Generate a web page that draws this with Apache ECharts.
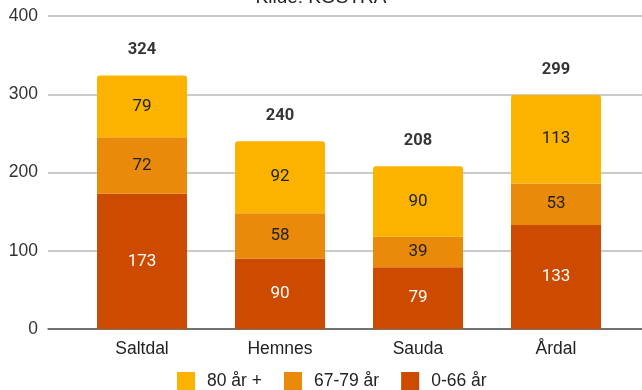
<!DOCTYPE html>
<html>
<head>
<meta charset="utf-8">
<style>
  html, body { margin: 0; padding: 0; background: #fff; }
  #chart { width: 642px; height: 390px; }
</style>
<script src="https://cdn.jsdelivr.net/npm/echarts@6/dist/echarts.min.js"></script>
</head>
<body>
<div id="chart"></div>
<script>
// Municipalities and age groups
const categories = ['Saltdal', 'Hemnes', 'Sauda', 'Årdal'];
const age0to66 = [173, 90, 79, 133];
const age67to79 = [72, 58, 39, 53];
const age80plus = [79, 92, 90, 113];
const totals = [324, 240, 208, 299];
const yTicks = [0, 100, 200, 300, 400];

const seriesNames = ['0-66 år', '67-79 år', '80 år +'];
const colors = ['#cc4b00', '#e98a0a', '#fbb300'];

const chart = echarts.init(document.getElementById('chart'));

const segLabel = (color) => ({
  show: true,
  position: 'inside',
  color: color,
  fontFamily: 'Roboto, Arial, sans-serif',
  fontSize: 17
});

chart.setOption({
  animation: false,
  color: colors,
  title: {
    text: 'Kilde: KOSTRA',
    left: 'center',
    top: -17,
    textStyle: { fontFamily: 'Arial, Liberation Sans, sans-serif', fontSize: 19, fontWeight: 'normal', color: '#222' }
  },
  legend: {
    data: ['80 år +', '67-79 år', '0-66 år'],
    bottom: -5,
    left: 172,
    itemWidth: 18,
    itemHeight: 18,
    itemGap: 22,
    icon: 'rect',
    textStyle: {
      fontFamily: 'Arial, Liberation Sans, sans-serif', fontSize: 17.5, color: '#222',
      padding: [0, 0, 0, 7]
    }
  },
  grid: [
    { left: 48, right: 0, top: 16, bottom: 61 },
    { left: 73, right: 17, top: 16, bottom: 61 }
  ],
  xAxis: [
    {
      gridIndex: 0, type: 'value', min: 0, max: 1,
      axisLine: { show: true, onZero: true, lineStyle: { color: '#555', width: 1.5 } },
      axisTick: { show: false }, axisLabel: { show: false }, splitLine: { show: false }
    },
    {
      gridIndex: 1, type: 'category', data: categories,
      axisLine: { show: false }, axisTick: { show: false },
      axisLabel: { margin: 11, fontFamily: 'Arial, Liberation Sans, sans-serif', fontSize: 17.5, color: '#222' }
    }
  ],
  yAxis: [
    {
      gridIndex: 0, type: 'value', min: yTicks[0], max: yTicks[yTicks.length - 1], interval: 100,
      axisLine: { show: false }, axisTick: { show: false },
      axisLabel: { margin: 10, fontFamily: 'Arial, Liberation Sans, sans-serif', fontSize: 17.5, color: '#333' },
      splitLine: { lineStyle: { color: '#b8b8b8', width: 1.5 } }
    },
    {
      gridIndex: 1, type: 'value', min: yTicks[0], max: yTicks[yTicks.length - 1], interval: 100,
      show: false, splitLine: { show: false }
    }
  ],
  series: [
    {
      name: seriesNames[0], type: 'bar', stack: 'total', xAxisIndex: 1, yAxisIndex: 1,
      barWidth: 90, data: age0to66, label: segLabel('#fff')
    },
    {
      name: seriesNames[1], type: 'bar', stack: 'total', xAxisIndex: 1, yAxisIndex: 1,
      barWidth: 90, data: age67to79, label: segLabel('#222')
    },
    {
      name: seriesNames[2], type: 'bar', stack: 'total', xAxisIndex: 1, yAxisIndex: 1,
      barWidth: 90, data: age80plus, label: segLabel('#222'),
      itemStyle: { borderRadius: [3, 3, 0, 0] }
    },
    {
      // Totals drawn as labels above each stack
      name: 'Sum', type: 'scatter', xAxisIndex: 1, yAxisIndex: 1,
      data: totals, symbolSize: 0, silent: true,
      label: {
        show: true, position: 'top', distance: 17,
        fontFamily: 'Roboto, Arial, sans-serif', fontSize: 16.5, fontWeight: 'bold', color: '#000',
        textBorderColor: '#fff', textBorderWidth: 2
      }
    }
  ]
});
</script>
</body>
</html>
